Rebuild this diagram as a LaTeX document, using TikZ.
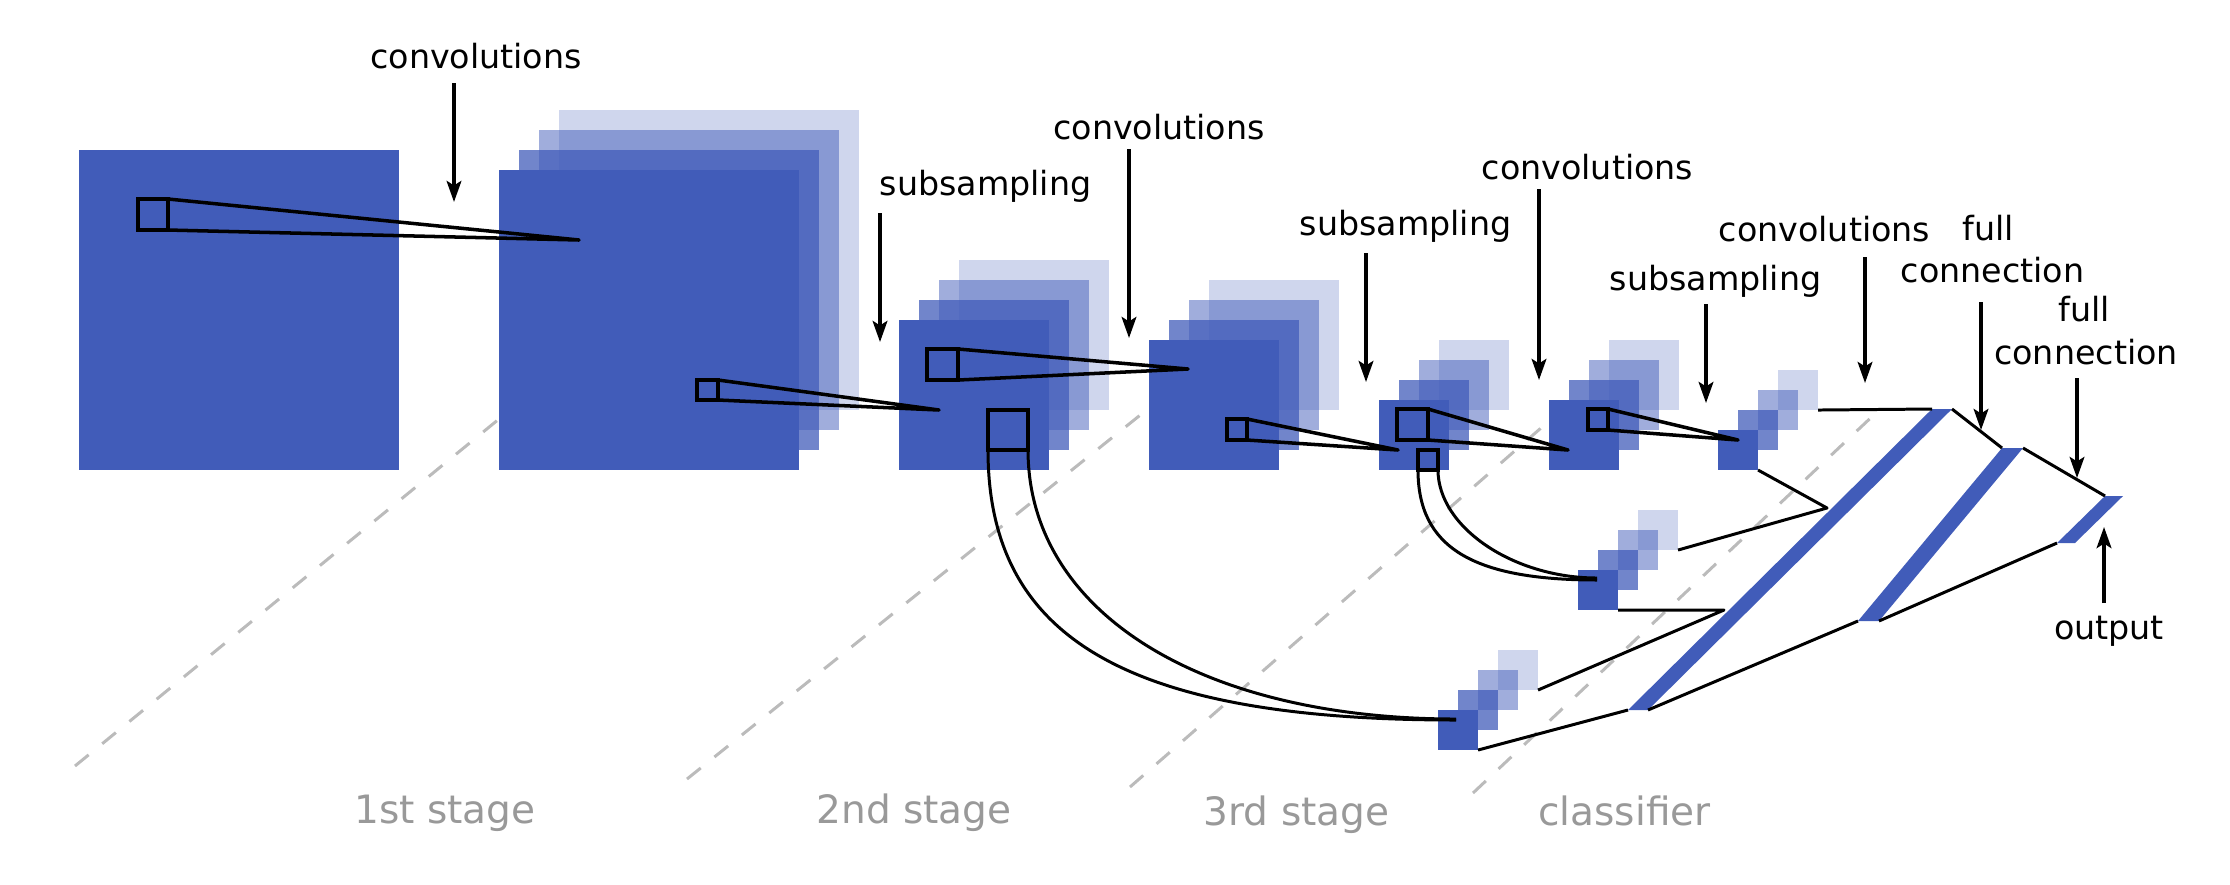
\documentclass[tikz,border=0pt]{standalone}
\usepackage{fontspec}
\setmainfont{DejaVu Sans}
\usetikzlibrary{arrows.meta}
\definecolor{cnnblue}{RGB}{65,92,185}
\definecolor{stagegray}{RGB}{153,153,153}
\definecolor{dashgray}{RGB}{187,187,187}
\tikzset{
  fmap/.style={fill=cnnblue, draw=none, inner sep=0pt, outer sep=0pt, anchor=north west},
  rfbox/.style={draw=black, line width=1.05pt, inner sep=0pt, outer sep=0pt, anchor=north west},
  rfline/.style={draw=black, line width=1pt, line join=round},
  ribbon/.style={draw=black, line width=0.85pt},
  fcline/.style={draw=black, line width=0.85pt, line join=round},
  lblarrow/.style={draw=black, line width=0.95pt, -{Stealth[length=6pt,width=4.2pt,inset=1.3pt]}},
  lbl/.style={font=\fontsize{9.47pt}{11pt}\selectfont, inner sep=0pt, anchor=base},
  stagelbl/.style={font=\fontsize{11.1pt}{13pt}\selectfont, text=stagegray, inner sep=0pt, anchor=base},
  stagesep/.style={draw=dashgray, line width=0.85pt, dash pattern=on 5pt off 5pt},
  fcbar/.style={fill=cnnblue, draw=none}
}
% stack of four feature maps: name, x, y (top-left of front map), size
\newcommand{\fmstack}[4]{%
  \node[fmap, fill opacity=0.25, minimum size=#4] (#1d) at (#2+60,#3-60) {};
  \node[fmap, fill opacity=0.5,  minimum size=#4] (#1c) at (#2+40,#3-40) {};
  \node[fmap, fill opacity=0.75, minimum size=#4] (#1b) at (#2+20,#3-20) {};
  \node[fmap, minimum size=#4] (#1a) at (#2,#3) {};
}
\begin{document}
\begin{tikzpicture}[x=0.01cm,y=-0.01cm]
\useasboundingbox (0,0) rectangle (2230,884);

% stage separators
\coordinate (d1a) at (75,766);   \coordinate (d1b) at (499,419);
\coordinate (d2a) at (687,779);  \coordinate (d2b) at (1149,408);
\coordinate (d3a) at (1130,787); \coordinate (d3b) at (1549,421);
\coordinate (d4a) at (1473,793); \coordinate (d4b) at (1879,410);
\draw[stagesep] (d1a) -- (d1b);
\draw[stagesep] (d2a) -- (d2b);
\draw[stagesep] (d3a) -- (d3b);
\draw[stagesep] (d4a) -- (d4b);

% feature maps
\node[fmap, minimum size=3.2cm] (in) at (79,150) {};
\fmstack{c1}{499}{170}{3cm}
\fmstack{s2}{899}{320}{1.5cm}
\fmstack{c3}{1149}{340}{1.3cm}
\fmstack{s4}{1379}{400}{0.7cm}
\fmstack{c5}{1549}{400}{0.7cm}
\fmstack{s6}{1718}{430}{0.4cm}
\fmstack{m6}{1578}{570}{0.4cm}
\fmstack{b6}{1438}{710}{0.4cm}

% receptive fields
\node[rfbox, minimum width=0.30cm, minimum height=0.31cm] (rf1) at (138,199) {};
\node[rfbox, minimum width=0.21cm, minimum height=0.20cm] (rf2) at (697,380) {};
\node[rfbox, minimum width=0.31cm, minimum height=0.31cm] (rf3) at (927,349) {};
\node[rfbox, minimum width=0.20cm, minimum height=0.21cm] (rf4) at (1227,419) {};
\node[rfbox, minimum width=0.31cm, minimum height=0.31cm] (rf5) at (1397,409) {};
\node[rfbox, minimum width=0.20cm, minimum height=0.21cm] (rf6) at (1588,409) {};
\node[rfbox, minimum width=0.40cm, minimum height=0.40cm] (rfa) at (988,410) {};
\node[rfbox, minimum width=0.20cm, minimum height=0.20cm] (rfb) at (1418,450) {};
\coordinate (ap1) at (579,240);
\coordinate (ap2) at (939,410);
\coordinate (ap3) at (1188,369);
\coordinate (ap4) at (1398,450);
\coordinate (ap5) at (1568,450);
\coordinate (ap6) at (1738,440);
\draw[rfline] (rf1.north east) -- (ap1) -- (rf1.south east);
\draw[rfline] (rf2.north east) -- (ap2) -- (rf2.south east);
\draw[rfline] (rf3.north east) -- (ap3) -- (rf3.south east);
\draw[rfline] (rf4.north east) -- (ap4) -- (rf4.south east);
\draw[rfline] (rf5.north east) -- (ap5) -- (rf5.south east);
\draw[rfline] (rf6.north east) -- (ap6) -- (rf6.south east);

% ribbons to the lower maps
\coordinate (rbend) at (1456,720);
\coordinate (rbend2) at (1456,719);
\coordinate (rmend) at (1597,580);
\coordinate (rmend2) at (1597,578);
\draw[ribbon] (rfa.south west) .. controls +(0,189) and +(-328,0) .. (rbend);
\draw[ribbon] (rfa.south east) .. controls +(0,161) and +(-257,0) .. (rbend2);
\draw[ribbon] (rfb.south west) .. controls +(0,77) and +(-125,0) .. (rmend);
\draw[ribbon] (rfb.south east) .. controls +(0,57) and +(-84,0) .. (rmend2);

% classifier bars
\coordinate (b1tl) at (1932,409); \coordinate (b1tr) at (1952,409);
\coordinate (b1br) at (1648,710); \coordinate (b1bl) at (1628,710);
\coordinate (b2tl) at (2002,448); \coordinate (b2tr) at (2023,448);
\coordinate (b2br) at (1879,621); \coordinate (b2bl) at (1858,621);
\coordinate (b3tl) at (2105,496); \coordinate (b3tr) at (2123,496);
\coordinate (b3br) at (2075,543); \coordinate (b3bl) at (2057,543);
\fill[fcbar] (b1tl) -- (b1tr) -- (b1br) -- (b1bl) -- cycle;
\fill[fcbar] (b2tl) -- (b2tr) -- (b2br) -- (b2bl) -- cycle;
\fill[fcbar] (b3tl) -- (b3tr) -- (b3br) -- (b3bl) -- cycle;
\coordinate (p1) at (1827,508);
\coordinate (p2) at (1724,610);
\draw[fcline] (s6d.south east) -- (b1tl);
\draw[fcline] (s6a.south east) -- (p1) -- (m6d.south east);
\draw[fcline] (m6a.south east) -- (p2) -- (b6d.south east);
\draw[fcline] (b6a.south east) -- (b1bl);
\draw[fcline] (b1tr) -- (b2tl);
\draw[fcline] (b1br) -- (b2bl);
\draw[fcline] (b2tr) -- (b3tl);
\draw[fcline] (b2br) -- (b3bl);

% labels
\node[lbl] (l1) at (476,68) {convolutions};
\node[lbl] (l2) at (985.5,195) {subsampling};
\node[lbl] (l3) at (1159,139.5) {convolutions};
\node[lbl] (l4) at (1405.5,235) {subsampling};
\node[lbl] (l5) at (1587.5,179) {convolutions};
\node[lbl] (l6) at (1715.5,290) {subsampling};
\node[lbl] (l7) at (1824.5,241) {convolutions};
\node[lbl] (l8a) at (1988,240) {full};
\node[lbl] (l8b) at (1992.5,282) {connection};
\node[lbl] (l9a) at (2084,321) {full};
\node[lbl] (l9b) at (2086,364) {connection};
\node[lbl] (l10) at (2109,639) {output};

% label arrows
\coordinate (a1s) at (454,83);   \coordinate (a1e) at (454,202);
\coordinate (a2s) at (880,213);  \coordinate (a2e) at (880,342);
\coordinate (a3s) at (1129,149); \coordinate (a3e) at (1129,338);
\coordinate (a4s) at (1366,253); \coordinate (a4e) at (1366,382);
\coordinate (a5s) at (1539,189); \coordinate (a5e) at (1539,380);
\coordinate (a6s) at (1706,304); \coordinate (a6e) at (1706,403);
\coordinate (a7s) at (1865,257); \coordinate (a7e) at (1865,383);
\coordinate (a8s) at (1981,302); \coordinate (a8e) at (1981,430);
\coordinate (a9s) at (2077,378); \coordinate (a9e) at (2077,478);
\coordinate (a10s) at (2104,603); \coordinate (a10e) at (2104,527);
\draw[lblarrow] (a1s) -- (a1e);
\draw[lblarrow] (a2s) -- (a2e);
\draw[lblarrow] (a3s) -- (a3e);
\draw[lblarrow] (a4s) -- (a4e);
\draw[lblarrow] (a5s) -- (a5e);
\draw[lblarrow] (a6s) -- (a6e);
\draw[lblarrow] (a7s) -- (a7e);
\draw[lblarrow] (a8s) -- (a8e);
\draw[lblarrow] (a9s) -- (a9e);
\draw[lblarrow] (a10s) -- (a10e);

% stage names
\node[stagelbl] (st1) at (445,823) {1st stage};
\node[stagelbl] (st2) at (914,823) {2nd stage};
\node[stagelbl] (st3) at (1296.5,825) {3rd stage};
\node[stagelbl] (st4) at (1624.5,825) {classifier};
\end{tikzpicture}
\end{document}
